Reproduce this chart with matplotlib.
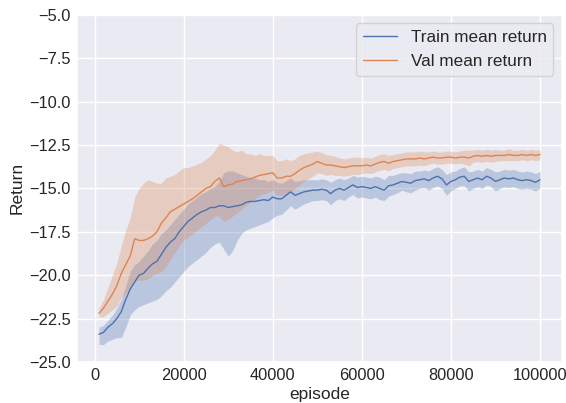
import numpy as np
import matplotlib
matplotlib.use("Agg")
import matplotlib.pyplot as plt
import seaborn as sns

# episodes 1000 .. 100000
episodes = list(range(1000, 100001, 1000))

train_mean = [
    -23.4, -23.3, -23.0, -22.8, -22.5, -22.1, -21.4, -20.8, -20.4, -20.0,
    -19.9, -19.6, -19.35, -19.2, -18.8, -18.4, -18.1, -17.9, -17.5, -17.2,
    -16.9, -16.7, -16.5, -16.35, -16.25, -16.1, -16.1, -16.0, -16.0, -16.1,
    -16.05, -16.0, -15.95, -15.8, -15.75, -15.75, -15.7, -15.65, -15.7, -15.5,
    -15.6, -15.6, -15.4, -15.2, -15.4, -15.3, -15.2, -15.15, -15.1, -15.1,
    -15.05, -15.1, -15.3, -15.1, -15.0, -15.1, -14.95, -14.8, -14.95, -14.9,
    -14.95, -15.0, -14.9, -15.0, -15.1, -14.85, -14.8, -14.7, -14.6, -14.65,
    -14.7, -14.55, -14.5, -14.45, -14.55, -14.4, -14.3, -14.45, -14.8, -14.6,
    -14.5, -14.35, -14.3, -14.6, -14.5, -14.4, -14.5, -14.3, -14.4, -14.6,
    -14.5, -14.4, -14.45, -14.4, -14.5, -14.55, -14.5, -14.55, -14.65, -14.5,
]
train_lo = [
    -24.0, -24.0, -23.8, -23.7, -23.6, -23.6, -23.0, -22.3, -22.0, -21.8,
    -21.7, -21.6, -21.5, -21.4, -21.2, -20.9, -20.7, -20.4, -20.1, -19.8,
    -19.5, -19.3, -19.1, -18.9, -18.7, -18.4, -18.2, -18.1, -18.5, -18.9,
    -18.6, -18.0, -17.6, -17.4, -17.3, -17.2, -17.1, -17.0, -16.9, -16.7,
    -16.55, -16.5, -16.25, -16.0, -16.2, -16.05, -15.9, -15.8, -15.7, -15.7,
    -15.65, -15.7, -15.95, -15.7, -15.6, -15.7, -15.5, -15.35, -15.55, -15.5,
    -15.55, -15.6, -15.5, -15.65, -15.7, -15.45, -15.35, -15.25, -15.1, -15.2,
    -15.25, -15.1, -15.0, -14.95, -15.1, -14.95, -14.85, -15.0, -15.4, -15.15,
    -15.0, -14.85, -14.85, -15.15, -15.0, -14.9, -15.0, -14.8, -14.9, -15.15,
    -15.0, -14.9, -14.95, -14.9, -15.0, -15.05, -15.0, -15.05, -15.15, -15.0,
]
train_hi = [
    -23.0, -22.9, -22.6, -22.3, -21.9, -21.4, -20.6, -19.8, -19.4, -19.2,
    -18.9, -18.6, -18.2, -18.0, -17.6, -17.4, -17.1, -16.8, -16.5, -16.2,
    -15.9, -15.7, -15.5, -15.3, -15.2, -15.0, -14.9, -14.6, -14.1, -14.0,
    -14.0, -14.1, -14.2, -14.3, -14.4, -14.4, -14.5, -14.5, -14.6, -14.5,
    -14.65, -14.7, -14.55, -14.4, -14.6, -14.55, -14.5, -14.5, -14.5, -14.5,
    -14.45, -14.5, -14.65, -14.5, -14.4, -14.5, -14.4, -14.25, -14.35, -14.3,
    -14.35, -14.4, -14.3, -14.35, -14.5, -14.25, -14.25, -14.15, -14.1, -14.1,
    -14.15, -14.0, -14.0, -13.95, -14.0, -13.85, -13.75, -13.9, -14.2, -14.05,
    -14.0, -13.85, -13.75, -14.05, -14.0, -13.9, -14.0, -13.8, -13.9, -14.05,
    -14.0, -13.9, -13.95, -13.9, -14.0, -14.05, -14.0, -14.05, -14.15, -14.0,
]

val_mean = [
    -22.2, -21.9, -21.5, -21.1, -20.6, -19.9, -19.4, -18.9, -17.9, -18.0,
    -18.0, -17.9, -17.75, -17.5, -17.0, -16.7, -16.35, -16.2, -16.05, -15.9,
    -15.75, -15.6, -15.4, -15.2, -15.0, -14.9, -14.6, -14.4, -14.9, -14.8,
    -14.75, -14.6, -14.55, -14.5, -14.45, -14.35, -14.25, -14.2, -14.15, -14.1,
    -14.4, -14.4, -14.3, -14.3, -14.15, -13.95, -13.8, -13.7, -13.6, -13.45,
    -13.55, -13.65, -13.65, -13.7, -13.75, -13.8, -13.75, -13.7, -13.7, -13.7,
    -13.65, -13.7, -13.6, -13.5, -13.45, -13.55, -13.45, -13.4, -13.35, -13.3,
    -13.3, -13.3, -13.25, -13.3, -13.25, -13.2, -13.25, -13.25, -13.2, -13.2,
    -13.25, -13.2, -13.2, -13.25, -13.15, -13.1, -13.15, -13.1, -13.15, -13.1,
    -13.1, -13.1, -13.05, -13.1, -13.1, -13.05, -13.1, -13.05, -13.1, -13.05,
]
val_lo = [
    -22.4, -22.4, -22.2, -22.0, -21.8, -21.3, -21.0, -20.7, -20.3, -20.3,
    -20.3, -20.2, -20.0, -19.9, -19.8, -19.5, -19.1, -18.7, -18.3, -18.0,
    -17.8, -17.6, -17.4, -17.2, -17.0, -16.8, -16.6, -16.6, -16.9, -16.8,
    -16.6, -16.4, -16.2, -16.0, -15.8, -15.6, -15.4, -15.3, -15.2, -15.1,
    -15.4, -15.4, -15.3, -15.2, -15.0, -14.8, -14.6, -14.45, -14.3, -14.1,
    -14.15, -14.25, -14.2, -14.25, -14.25, -14.3, -14.25, -14.2, -14.2, -14.15,
    -14.1, -14.15, -14.05, -13.95, -13.9, -14.0, -13.85, -13.8, -13.75, -13.7,
    -13.7, -13.7, -13.65, -13.7, -13.6, -13.55, -13.6, -13.6, -13.55, -13.55,
    -13.6, -13.55, -13.6, -13.7, -13.5, -13.45, -13.5, -13.45, -13.5, -13.45,
    -13.4, -13.4, -13.4, -13.4, -13.4, -13.35, -13.4, -13.35, -13.4, -13.35,
]
val_hi = [
    -21.9, -21.4, -20.7, -20.0, -19.3, -18.3, -17.4, -16.7, -15.5, -15.0,
    -14.7, -14.5, -14.6, -14.7, -14.7, -14.4, -14.3, -14.2, -14.0, -13.8,
    -13.8, -13.7, -13.6, -13.5, -13.3, -13.1, -12.8, -12.4, -12.5, -12.6,
    -12.8, -12.9, -12.8, -13.0, -13.0, -13.1, -13.0, -13.1, -13.1, -13.1,
    -13.4, -13.4, -13.3, -13.4, -13.3, -13.1, -13.0, -12.95, -12.9, -12.85,
    -12.95, -13.05, -13.1, -13.15, -13.25, -13.3, -13.25, -13.2, -13.2, -13.25,
    -13.2, -13.25, -13.15, -13.05, -13.0, -13.1, -13.05, -13.0, -12.95, -12.9,
    -12.9, -12.9, -12.85, -12.9, -12.9, -12.85, -12.9, -12.9, -12.85, -12.85,
    -12.9, -12.85, -12.8, -12.8, -12.8, -12.75, -12.8, -12.75, -12.8, -12.75,
    -12.8, -12.8, -12.7, -12.8, -12.8, -12.75, -12.8, -12.75, -12.8, -12.75,
]

sns.set_theme(style="darkgrid")
plt.rcParams["font.family"] = ["Liberation Sans", "DejaVu Sans"]
plt.rcParams["xtick.labelsize"] = 11.8
plt.rcParams["ytick.labelsize"] = 11.8
plt.rcParams["axes.labelsize"] = 12.5
plt.rcParams["legend.fontsize"] = 12.3
plt.rcParams["xtick.major.size"] = 0
plt.rcParams["ytick.major.size"] = 0
plt.rcParams["xtick.major.pad"] = 4.3
plt.rcParams["ytick.major.pad"] = 4.3

colors = sns.color_palette("deep")
fig, ax = plt.subplots(figsize=(5.66, 4.03), dpi=100)
fig.subplots_adjust(left=0.136, right=0.993, top=0.963, bottom=0.102)

x = np.array(episodes)
series = [
    (train_mean, train_lo, train_hi, colors[0], "Train mean return"),
    (val_mean, val_lo, val_hi, colors[1], "Val mean return"),
]
for mean, lo, hi, c, label in series:
    ax.plot(x, mean, color=c, lw=1.0, label=label)
    ax.fill_between(x, lo, hi, color=c, alpha=0.3, lw=0)

ax.set_ylim(-25, -5)
ax.set_xlabel("episode", labelpad=3)
ax.set_ylabel("Return", labelpad=3)
ax.legend(loc="upper right")

fig.savefig("out.png", dpi=100)
